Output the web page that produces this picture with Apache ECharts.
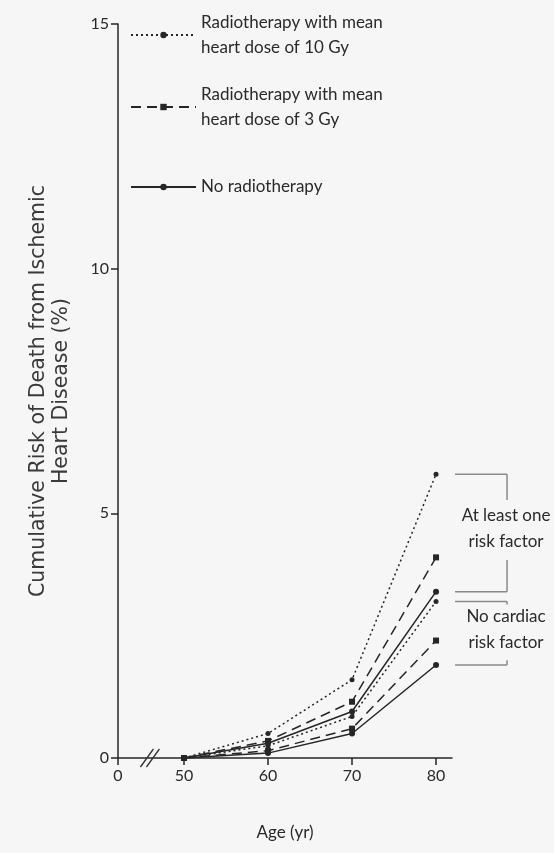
<!DOCTYPE html>
<html>
<head>
<meta charset="utf-8">
<script src="https://cdn.jsdelivr.net/npm/echarts@6/dist/echarts.min.js"></script>
<style>
html,body{margin:0;padding:0;background:#f6f6f6;}
#chart{width:554px;height:853px;}
</style>
</head>
<body>
<div id="chart"></div>
<script>
// ---- data ----
const ages = [50, 60, 70, 80];
const tenGyRisk   = [0, 0.5, 1.6, 5.8];
const threeGyRisk = [0, 0.35, 1.15, 4.1];
const noRtRisk    = [0, 0.3, 0.95, 3.4];
const tenGyNone   = [0, 0.25, 0.85, 3.2];
const threeGyNone = [0, 0.15, 0.6, 2.4];
const noRtNone    = [0, 0.1, 0.5, 1.9];

const seriesNames = ['Radiotherapy with mean heart dose of 10 Gy', 'Radiotherapy with mean heart dose of 3 Gy', 'No radiotherapy'];
const legendLabels = ['Radiotherapy with mean\nheart dose of 10 Gy', 'Radiotherapy with mean\nheart dose of 3 Gy', 'No radiotherapy'];

const xTickValues = [42.14, 50, 60, 70, 80];
const xTickLabels = ['0', '50', '60', '70', '80'];
const yTicks = [0, 5, 10, 15];

const brackets = [[80, 5.8, 3.4], [80, 3.2, 1.9]];
const bracketLabels = ['At least one\nrisk factor', 'No cardiac\nrisk factor'];
const breakAt = [[46, 0]];

const ink = '#262626';
const styles = [
  {type: [2, 3], symbol: 'circle', size: 5},
  {type: [10, 6], symbol: 'rect', size: 6},
  {type: 'solid', symbol: 'circle', size: 6}
];

function pair(arr) { return ages.map((a, i) => [a, arr[i]]); }
function lineSeries(k, arr) {
  return {
    type: 'line', name: seriesNames[k], data: pair(arr),
    symbol: styles[k].symbol, symbolSize: styles[k].size,
    lineStyle: {color: ink, width: 1.5, type: styles[k].type},
    itemStyle: {color: ink},
    z: 3
  };
}

const chart = echarts.init(document.getElementById('chart'));
const fontTxt = 'Lato';

function legendOf(k, top, twoLine) {
  return {
    data: [seriesNames[k]], left: 130, top: top, padding: 0,
    orient: 'vertical', itemWidth: 65, itemHeight: 8,
    formatter: () => legendLabels[k],
    textStyle: {fontFamily: fontTxt, fontSize: 17, color: '#2a2a2a', lineHeight: 25,
      padding: twoLine ? [25, 0, 0, 0] : 0},
    selectedMode: false
  };
}

chart.setOption({
  backgroundColor: '#f6f6f6',
  animation: false,
  grid: {left: 118, right: 102, top: 24, bottom: 95, containLabel: false},
  legend: [legendOf(0, -2.5, true), legendOf(1, 69.5, true), legendOf(2, 174.5, false)],
  xAxis: {
    type: 'value', min: 42.14, max: 81.9,
    name: 'Age (yr)', nameLocation: 'middle', nameGap: 66,
    nameTextStyle: {fontFamily: fontTxt, fontSize: 17, color: '#2a2a2a'},
    axisLine: {lineStyle: {color: ink, width: 1.5}},
    axisTick: {show: true, length: 7, lineStyle: {color: ink, width: 1.5}, customValues: xTickValues},
    axisLabel: {customValues: xTickValues, fontFamily: fontTxt, fontSize: 16, color: '#2a2a2a', margin: 10,
      formatter: v => xTickLabels[xTickValues.findIndex(t => Math.abs(t - v) < 1e-6)]},
    splitLine: {show: false}
  },
  yAxis: {
    type: 'value', min: 0, max: 15, interval: 5,
    name: 'Cumulative Risk of Death from Ischemic\nHeart Disease (%)',
    nameLocation: 'middle', nameGap: 45, nameRotate: 90,
    nameTextStyle: {fontFamily: 'DejaVu Sans', fontSize: 20.5, color: '#3a3a3a', lineHeight: 23},
    axisLine: {show: true, lineStyle: {color: ink, width: 1.5}},
    axisTick: {show: true, length: 7, lineStyle: {color: ink, width: 1.5}},
    axisLabel: {fontFamily: fontTxt, fontSize: 16, color: '#2a2a2a', margin: 9},
    splitLine: {show: false}
  },
  series: [
    lineSeries(0, tenGyRisk),
    lineSeries(1, threeGyRisk),
    lineSeries(2, noRtRisk),
    lineSeries(0, tenGyNone),
    lineSeries(1, threeGyNone),
    lineSeries(2, noRtNone),
    {
      type: 'custom', data: brackets, clip: false, silent: true, z: 2,
      encode: {x: 0, y: 1},
      renderItem: function (params, api) {
        const t = api.coord([api.value(0), api.value(1)]);
        const b = api.coord([api.value(0), api.value(2)]);
        const x0 = t[0] + 19, x1 = t[0] + 71;
        const mid = (t[1] + b[1]) / 2 - 4;
        const ls = {stroke: '#8a8a8a', lineWidth: 1.5};
        const kids = [
          {type: 'line', shape: {x1: x0, y1: t[1], x2: x1, y2: t[1]}, style: ls},
          {type: 'line', shape: {x1: x0, y1: b[1], x2: x1, y2: b[1]}, style: ls},
          {type: 'line', shape: {x1: x1, y1: t[1], x2: x1, y2: Math.max(t[1] + 3, mid - 29)}, style: ls},
          {type: 'line', shape: {x1: x1, y1: Math.min(b[1] - 3, mid + 31), x2: x1, y2: b[1]}, style: ls},
          {type: 'text', style: {text: bracketLabels[params.dataIndex], x: t[0] + 70, y: mid,
            align: 'center', verticalAlign: 'middle', font: '17px Lato', lineHeight: 26, fill: '#2a2a2a'}}
        ];
        return {type: 'group', children: kids};
      }
    },
    {
      type: 'custom', data: breakAt, clip: false, silent: true, z: 4,
      encode: {x: 0, y: 1},
      renderItem: function (params, api) {
        const p = api.coord([api.value(0), api.value(1)]);
        const ls = {stroke: '#333', lineWidth: 1.3};
        return {type: 'group', children: [
          {type: 'line', shape: {x1: p[0] - 10, y1: p[1] + 9, x2: p[0] + 3, y2: p[1] - 9}, style: ls},
          {type: 'line', shape: {x1: p[0] - 4, y1: p[1] + 9, x2: p[0] + 9, y2: p[1] - 9}, style: ls}
        ]};
      }
    }
  ]
});
</script>
</body>
</html>
